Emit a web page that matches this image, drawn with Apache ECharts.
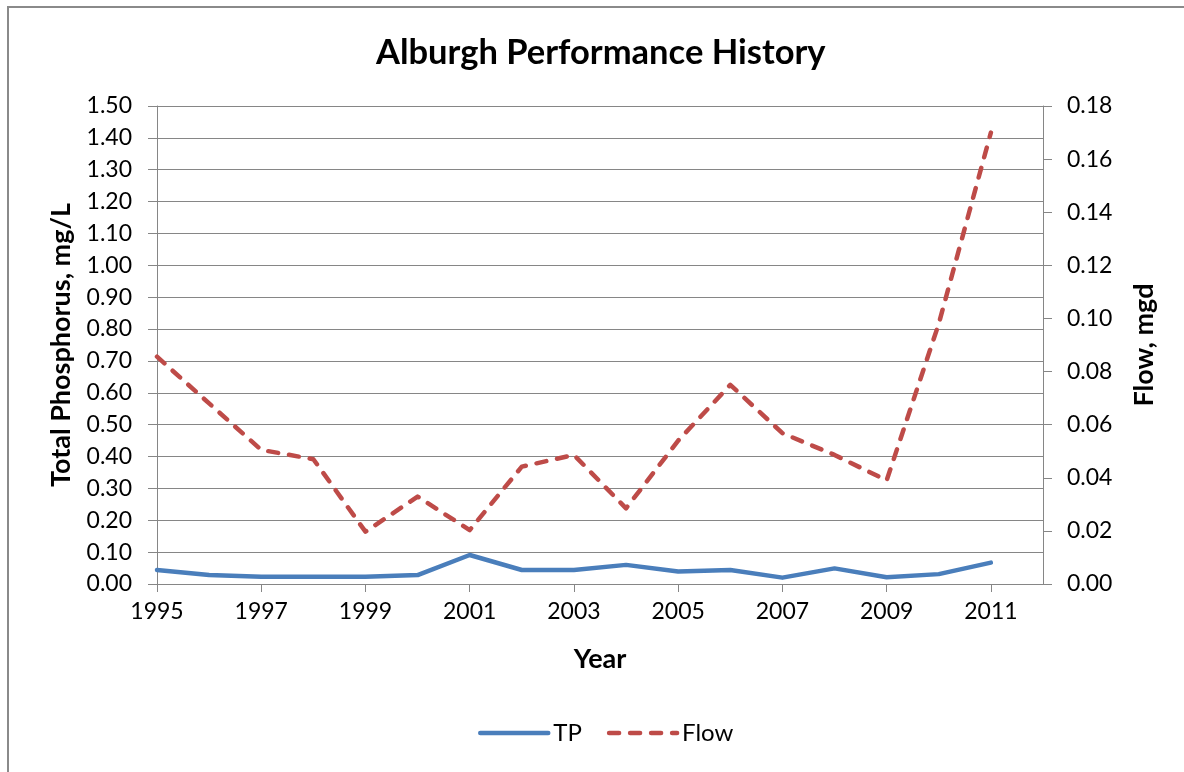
<!DOCTYPE html>
<html>
<head>
<meta charset="utf-8">
<title>Alburgh Performance History</title>
<script src="https://cdn.jsdelivr.net/npm/echarts@6/dist/echarts.min.js"></script>
<style>
  html, body { margin: 0; padding: 0; background: #fff; }
  #main { width: 1184px; height: 772px; }
</style>
</head>
<body>
<div id="main"></div>
<script>
// years on the x axis (2012 has no data, it only closes the axis)
var years = ['1995', '1996', '1997', '1998', '1999', '2000', '2001', '2002', '2003',
  '2004', '2005', '2006', '2007', '2008', '2009', '2010', '2011', '2012'];
// total phosphorus, mg/L (left axis)
var tpValues = [0.044, 0.028, 0.023, 0.023, 0.023, 0.028, 0.091, 0.044, 0.044,
  0.060, 0.039, 0.044, 0.020, 0.049, 0.021, 0.031, 0.067];
// flow, mgd (right axis)
var flowValues = [0.0856, 0.068, 0.0505, 0.047, 0.0197, 0.0329, 0.0203, 0.0442, 0.0486,
  0.0285, 0.054, 0.075, 0.0568, 0.0486, 0.039, 0.098, 0.170];

var fontFam = 'Lato, "Open Sans", sans-serif';
var axisGray = '#868686';

// label / tick every other year, and none at the closing 2012 slot
function everyOther(idx) {
  return idx % 2 === 0 && idx < years.length - 1;
}

var chart = echarts.init(document.getElementById('main'));

var option = {
  backgroundColor: '#fff',
  animation: false,
  textStyle: { fontFamily: fontFam, color: '#000' },
  title: {
    text: 'Alburgh Performance History',
    left: 371,
    top: 30,
    textStyle: { fontFamily: fontFam, fontSize: 34.5, fontWeight: 'bold', color: '#000' }
  },
  graphic: [{
    type: 'rect',
    shape: { x: 8, y: 7, width: 1300, height: 900 },
    style: { fill: 'none', stroke: '#8a8a8a', lineWidth: 2 },
    silent: true
  }],
  legend: {
    bottom: 22,
    left: 473,
    itemWidth: 68,
    itemHeight: 14,
    itemGap: 25,
    itemStyle: { opacity: 0 },
    lineStyle: { width: 4.5, cap: 'round' },
    textStyle: { fontFamily: fontFam, fontSize: 24, color: '#000' },
    data: ['TP', 'Flow']
  },
  grid: {
    left: 157,
    right: 141,
    top: 106,
    bottom: 188,
    containLabel: false
  },
  xAxis: {
    type: 'category',
    data: years,
    boundaryGap: false,
    name: 'Year',
    nameLocation: 'middle',
    nameGap: 62,
    nameTextStyle: { fontFamily: fontFam, fontSize: 27, fontWeight: 'bold', color: '#000' },
    axisLine: { lineStyle: { color: axisGray, width: 1 } },
    axisTick: { show: true, interval: everyOther, length: 8, lineStyle: { color: axisGray } },
    axisLabel: {
      interval: everyOther,
      margin: 16,
      fontFamily: fontFam,
      fontSize: 23,
      color: '#000'
    },
    splitLine: { show: false }
  },
  yAxis: [{
    type: 'value',
    position: 'left',
    min: 0,
    max: 1.5,
    interval: 0.1,
    name: 'Total Phosphorus, mg/L',
    nameLocation: 'middle',
    nameGap: 82,
    nameTextStyle: { fontFamily: fontFam, fontSize: 27, fontWeight: 'bold', color: '#000' },
    axisLine: { show: true, lineStyle: { color: axisGray, width: 1 } },
    axisTick: { show: true, length: 9, lineStyle: { color: axisGray } },
    axisLabel: {
      margin: 25,
      fontFamily: fontFam,
      fontSize: 23,
      color: '#000',
      formatter: function (v) { return v.toFixed(2); }
    },
    splitLine: { show: true, lineStyle: { color: axisGray, width: 1 } }
  }, {
    type: 'value',
    position: 'right',
    min: 0,
    max: 0.18,
    interval: 0.02,
    name: 'Flow, mgd',
    nameLocation: 'middle',
    nameGap: 88,
    nameRotate: 90,
    nameTextStyle: { fontFamily: fontFam, fontSize: 27, fontWeight: 'bold', color: '#000' },
    axisLine: { show: true, lineStyle: { color: axisGray, width: 1 } },
    axisTick: { show: true, length: 9, lineStyle: { color: axisGray } },
    axisLabel: {
      margin: 24,
      fontFamily: fontFam,
      fontSize: 23,
      color: '#000',
      formatter: function (v) { return v.toFixed(2); }
    },
    splitLine: { show: false }
  }],
  series: [{
    name: 'TP',
    type: 'line',
    yAxisIndex: 0,
    data: tpValues,
    symbol: 'none',
    itemStyle: { color: '#4A7EBB' },
    lineStyle: { color: '#4A7EBB', width: 4.5, cap: 'round', join: 'round' }
  }, {
    name: 'Flow',
    type: 'line',
    yAxisIndex: 1,
    data: flowValues,
    symbol: 'none',
    itemStyle: { color: '#BE4B48' },
    lineStyle: { color: '#BE4B48', width: 4.5, type: [10, 11], cap: 'round', join: 'round' }
  }]
};

chart.setOption(option);
</script>
</body>
</html>
